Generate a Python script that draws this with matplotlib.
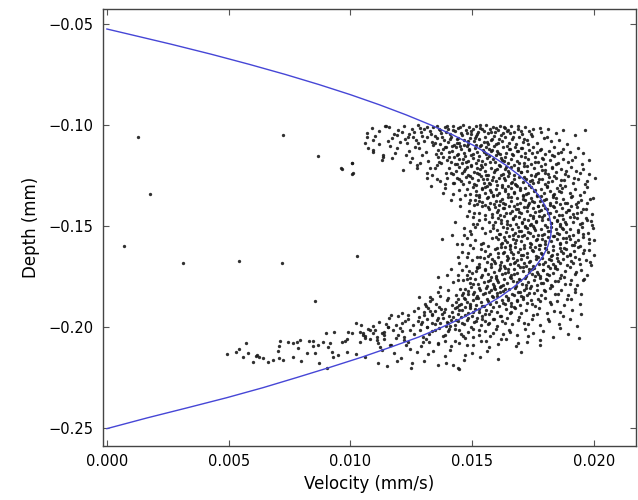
import numpy as np
import matplotlib
matplotlib.use("Agg")
import matplotlib.pyplot as plt

# ---- fitted profile curve (velocity mm/s, depth mm) ----
curve_depth = [-0.0525, -0.055, -0.060, -0.065, -0.070, -0.075, -0.080, -0.085, -0.090, -0.095,
               -0.100, -0.105, -0.110, -0.115, -0.120, -0.125, -0.130, -0.135, -0.140, -0.145,
               -0.150, -0.155, -0.160, -0.165, -0.170, -0.175, -0.180, -0.185, -0.190, -0.195,
               -0.200, -0.205, -0.210, -0.215, -0.220, -0.225, -0.230, -0.235, -0.240, -0.245, -0.2503]
curve_vel = [0.0, 0.00088, 0.00263, 0.00429, 0.00585, 0.00733, 0.00871, 0.01000, 0.01119, 0.01229,
             0.01330, 0.01422, 0.01504, 0.01576, 0.01640, 0.01694, 0.01739, 0.01774, 0.01800, 0.01817,
             0.01825, 0.01823, 0.01811, 0.01791, 0.01761, 0.01722, 0.01673, 0.01616, 0.01546, 0.01468,
             0.01378, 0.01280, 0.01165, 0.01045, 0.00915, 0.00780, 0.00642, 0.00492, 0.00330, 0.00165, 0.0]

# ---- measured points: (velocity in 1e-5 mm/s, depth in -1e-4 mm) ----
outliers = [(127,1059),(177,1342),(70,1600),(312,1683),(542,1673),(719,1683),(723,1050),(867,1153),
            (855,1871),(1027,1648),(960,1213),(1007,1243),(1006,1188),(1376,1564)]

band_a = [(1087,1016),(1142,1005),(1067,1041),(1145,1003),(1197,1025),(1252,1020),(1286,1016),(1210,1033),
          (1190,1050),(1101,1053),(1313,1008),(1327,1030),(1341,1012),(1356,1003),(1368,1025),(1374,1040),
          (1389,1010),(1402,1022),(1411,1046),(1423,1004),(1430,1031),(1442,1015),(1455,1038),(1461,1002),
          (1473,1027),(1486,1011),(1494,1044),(1502,1019),(1515,1006),(1524,1035),(1533,1013),(1547,1028),
          (1556,1001),(1564,1042),(1572,1018),(1585,1009),(1593,1033),(1607,1024),(1615,1004),(1628,1039),
          (1636,1015),(1648,1027),(1661,1007),(1673,1036),(1690,1019),(1704,1045),(1718,1011),(1735,1030),
          (1752,1022),(1784,1034),(1812,1018),(1846,1042),(1873,1027),(1921,1048),(1964,1025)]
band_b = [(1060,1091),(1094,1074),(1067,1058),(1170,1066),(1224,1069),(1258,1058),(1293,1053),(1302,1079),
          (1232,1088),(1316,1062),(1335,1083),(1348,1056),(1357,1066),(1370,1094),(1384,1072),(1402,1083),
          (1415,1059),(1426,1097),(1438,1068),(1447,1087),(1459,1052),(1468,1075),(1481,1092),(1490,1063),
          (1506,1081),(1517,1055),(1529,1070),(1538,1098),(1552,1061),(1563,1085),(1577,1073),(1588,1054),
          (1596,1093),(1611,1067),(1623,1080),(1637,1058),(1652,1089),(1664,1071),(1679,1096),(1693,1062),
          (1708,1084),(1726,1075),(1747,1057),(1768,1090),(1795,1066),(1823,1081),(1858,1072),(1889,1095)]
band_c = [(1094,1124),(1119,1096),(1163,1102),(1183,1140),(1134,1149),(1093,1132),(1265,1107),(1283,1115),
          (1311,1132),(1341,1099),(1361,1124),(1373,1141),(1388,1110),(1406,1132),(1418,1104),(1434,1107),
          (1442,1145),(1455,1118),(1467,1137),(1478,1103),(1489,1126),(1497,1148),(1511,1113),(1522,1135),
          (1534,1106),(1545,1122),(1557,1144),(1568,1117),(1579,1131),(1591,1102),(1603,1128),(1614,1146),
          (1626,1111),(1638,1137),(1650,1120),(1663,1142),(1675,1107),(1688,1129),(1701,1115),(1716,1140),
          (1732,1124),(1749,1109),(1765,1135),(1781,1118),(1798,1146),(1815,1127),(1836,1108),(1852,1141),
          (1874,1119),(1903,1133),(1936,1112)]
band_d = [(1128,1173),(1005,1187),(1170,1165),(1245,1182),(1272,1198),(1135,1157),(1361,1157),(1371,1190),
          (1381,1157),(1396,1172),(1412,1182),(1425,1160),(1437,1195),(1448,1168),(1459,1186),(1471,1153),
          (1483,1177),(1494,1199),(1505,1164),(1516,1189),(1528,1155),(1539,1176),(1551,1193),(1562,1162),
          (1574,1184),(1586,1170),(1597,1151),(1609,1196),(1621,1175),(1634,1158),(1646,1188),(1659,1166),
          (1672,1197),(1686,1179),(1699,1154),(1713,1187),(1728,1169),(1742,1192),(1757,1158),(1771,1181),
          (1786,1163),(1801,1195),(1818,1174),(1835,1156),(1853,1188),(1872,1167),(1894,1183),(1921,1161),
          (1952,1194),(1978,1172)]
band_e = [(964,1218),(1012,1239),(1217,1223),(1272,1214),(1313,1236),(1334,1248),(1393,1239),(1327,1214),
          (1404,1213),(1420,1244),(1432,1226),(1447,1206),(1459,1237),(1471,1219),(1482,1248),(1494,1202),
          (1506,1231),(1518,1215),(1529,1242),(1541,1208),(1553,1226),(1565,1247),(1577,1211),(1589,1234),
          (1601,1220),(1613,1203),(1625,1243),(1637,1217),(1649,1230),(1661,1209),(1674,1246),(1687,1222),
          (1700,1235),(1713,1204),(1727,1228),(1741,1249),(1755,1213),(1769,1236),(1783,1205),(1798,1224),
          (1813,1245),(1829,1210),(1846,1233),(1864,1218),(1883,1241),(1905,1207),(1928,1229),(1956,1216),
          (1982,1244)]
band_f = [(1313,1264),(1395,1264),(1420,1289),(1369,1277),(1448,1268),(1462,1291),(1476,1256),(1489,1280),
          (1501,1263),(1514,1297),(1526,1272),(1538,1251),(1550,1285),(1562,1266),(1574,1293),(1586,1258),
          (1598,1278),(1610,1262),(1622,1299),(1634,1274),(1646,1253),(1658,1287),(1670,1268),(1682,1295),
          (1694,1257),(1707,1281),(1720,1265),(1733,1298),(1746,1271),(1759,1252),(1772,1284),(1786,1267),
          (1800,1294),(1814,1259),(1829,1279),(1844,1262),(1860,1296),(1877,1273),(1895,1255),(1914,1288),
          (1935,1269),(1962,1291),(2005,1262)]
band_g = [(1389,1313),(1380,1335),(1423,1342),(1446,1321),(1478,1318),(1491,1341),(1503,1306),(1516,1329),
          (1528,1347),(1540,1312),(1551,1336),(1563,1303),(1575,1324),(1587,1349),(1599,1315),(1611,1338),
          (1623,1307),(1635,1327),(1647,1344),(1659,1310),(1671,1333),(1683,1301),(1695,1322),(1707,1346),
          (1719,1314),(1731,1339),(1743,1305),(1755,1326),(1768,1348),(1781,1317),(1794,1335),(1807,1302),
          (1821,1325),(1835,1343),(1850,1311),(1866,1330),(1883,1304),(1901,1338),(1921,1319),(1945,1347),
          (1973,1309)]
band_h = [(1512,1371),(1519,1392),(1450,1365),(1487,1384),(1527,1358),(1539,1381),(1551,1397),(1563,1362),
          (1575,1386),(1587,1353),(1599,1374),(1611,1395),(1623,1366),(1635,1389),(1647,1356),(1659,1378),
          (1671,1399),(1683,1363),(1695,1385),(1707,1352),(1719,1372),(1731,1394),(1743,1360),(1755,1383),
          (1767,1351),(1779,1376),(1792,1398),(1805,1364),(1818,1387),(1831,1355),(1845,1379),(1859,1392),
          (1874,1368),(1890,1384),(1907,1357),(1925,1391),(1946,1370),(1972,1388),(1998,1361)]
band_i = [(1567,1408),(1530,1437),(1488,1425),(1553,1446),(1568,1418),(1580,1441),(1592,1405),(1604,1429),
          (1616,1447),(1628,1412),(1640,1435),(1652,1402),(1664,1424),(1676,1449),(1688,1415),(1700,1438),
          (1712,1406),(1724,1427),(1736,1444),(1748,1411),(1760,1433),(1772,1401),(1784,1421),(1796,1446),
          (1808,1414),(1820,1437),(1832,1403),(1845,1426),(1858,1448),(1871,1410),(1885,1432),(1899,1419),
          (1914,1442),(1930,1407),(1948,1430),(1969,1416),(1992,1439)]
band_j = [(1587,1495),(1553,1466),(1520,1488),(1569,1480),(1505,1458),(1608,1462),(1620,1487),(1632,1453),
          (1644,1476),(1656,1497),(1668,1465),(1680,1489),(1692,1456),(1704,1478),(1716,1499),(1728,1468),
          (1740,1491),(1752,1459),(1764,1481),(1776,1452),(1788,1472),(1800,1494),(1812,1463),(1824,1485),
          (1836,1457),(1848,1477),(1860,1498),(1873,1466),(1887,1490),(1901,1455),(1916,1479),(1932,1461),
          (1950,1486),(1970,1470),(1994,1493)]
band_k = [(1437,1589),(1491,1524),(1512,1506),(1553,1536),(1540,1512),(1466,1545),(1604,1518),(1616,1541),
          (1628,1507),(1640,1530),(1652,1548),(1664,1513),(1676,1536),(1688,1503),(1700,1525),(1712,1544),
          (1724,1510),(1736,1533),(1748,1502),(1760,1522),(1772,1546),(1784,1515),(1796,1538),(1808,1505),
          (1820,1527),(1832,1549),(1845,1517),(1858,1540),(1871,1508),(1885,1531),(1900,1514),(1916,1543),
          (1933,1521),(1952,1504),(1974,1535),(1998,1512)]
band_l = [(1491,1594),(1510,1571),(1545,1583),(1478,1560),(1565,1598),(1580,1557),(1606,1566),(1618,1589),
          (1630,1555),(1642,1578),(1654,1598),(1666,1562),(1678,1585),(1690,1552),(1702,1574),(1714,1595),
          (1726,1559),(1738,1582),(1750,1551),(1762,1571),(1774,1593),(1786,1564),(1798,1587),(1810,1554),
          (1822,1576),(1834,1597),(1847,1566),(1860,1589),(1873,1557),(1887,1580),(1902,1563),(1918,1592),
          (1936,1570),(1956,1553),(1978,1584),(2001,1567)]
band_m = [(1443,1652),(1478,1652),(1519,1652),(1460,1628),(1535,1615),(1572,1641),(1594,1612),(1606,1635),
          (1618,1604),(1630,1627),(1642,1648),(1654,1616),(1666,1639),(1678,1606),(1690,1628),(1702,1645),
          (1714,1611),(1726,1634),(1738,1603),(1750,1624),(1762,1647),(1774,1614),(1786,1637),(1798,1607),
          (1810,1629),(1822,1649),(1834,1618),(1847,1640),(1860,1609),(1873,1632),(1887,1615),(1902,1644),
          (1918,1622),(1936,1605),(1956,1636),(1980,1619),(1999,1642)]
band_n = [(1498,1668),(1530,1690),(1561,1676),(1475,1697),(1549,1659),(1582,1662),(1594,1685),(1606,1654),
          (1618,1677),(1630,1698),(1642,1666),(1654,1689),(1666,1656),(1678,1678),(1690,1695),(1702,1661),
          (1714,1684),(1726,1653),(1738,1674),(1750,1697),(1762,1664),(1774,1687),(1786,1657),(1798,1679),
          (1810,1699),(1822,1668),(1834,1690),(1847,1659),(1860,1682),(1874,1665),(1889,1694),(1905,1672),
          (1923,1655),(1944,1686),(1968,1669),(1990,1692)]
band_o = [(1361,1751),(1443,1743),(1457,1718),(1500,1732),(1520,1708),(1479,1745),(1552,1713),(1564,1736),
          (1576,1704),(1588,1727),(1600,1748),(1612,1716),(1624,1739),(1636,1706),(1648,1728),(1660,1745),
          (1672,1711),(1684,1734),(1696,1703),(1708,1724),(1720,1747),(1732,1714),(1744,1737),(1756,1707),
          (1768,1729),(1780,1749),(1793,1718),(1806,1740),(1819,1709),(1833,1732),(1848,1715),(1864,1744),
          (1881,1722),(1900,1705),(1922,1736),(1947,1719),(1970,1741)]
band_p = [(1368,1800),(1441,1767),(1491,1784),(1420,1779),(1480,1760),(1512,1762),(1524,1785),(1536,1754),
          (1548,1777),(1560,1798),(1572,1766),(1584,1789),(1596,1756),(1608,1778),(1620,1795),(1632,1761),
          (1644,1784),(1656,1753),(1668,1774),(1680,1797),(1692,1764),(1704,1787),(1716,1757),(1728,1779),
          (1740,1799),(1753,1768),(1766,1790),(1779,1759),(1793,1782),(1808,1765),(1824,1794),(1841,1772),
          (1860,1755),(1882,1786),(1906,1769),(1932,1791),(1958,1763)]
band_q = [(1464,1833),(1327,1850),(1361,1827),(1402,1815),(1435,1842),(1450,1810),(1472,1812),(1484,1835),
          (1496,1804),(1508,1827),(1520,1848),(1532,1816),(1544,1839),(1556,1806),(1568,1828),(1580,1845),
          (1592,1811),(1604,1834),(1616,1803),(1628,1824),(1640,1847),(1652,1814),(1664,1837),(1676,1807),
          (1688,1829),(1700,1849),(1713,1818),(1726,1840),(1739,1809),(1753,1832),(1768,1815),(1784,1844),
          (1801,1822),(1820,1805),(1842,1836),(1866,1819),(1892,1841),(1922,1813),(1948,1838)]
band_r = [(1282,1853),(1327,1871),(1395,1866),(1400,1858),(1437,1899),(1416,1889),(1350,1888),(1310,1895),
          (1442,1862),(1454,1885),(1466,1854),(1478,1877),(1490,1898),(1502,1866),(1514,1889),(1526,1856),
          (1538,1878),(1550,1895),(1562,1861),(1574,1884),(1586,1853),(1598,1874),(1610,1897),(1622,1864),
          (1634,1887),(1646,1857),(1658,1879),(1670,1899),(1683,1868),(1696,1890),(1710,1859),(1725,1882),
          (1741,1865),(1758,1894),(1777,1872),(1798,1855),(1822,1886),(1848,1869),(1876,1891),(1908,1863),
          (1942,1884)]
band_s = [(1160,1957),(1283,1949),(1238,1942),(1279,1905),(1165,1939),(1210,1931),(1302,1928),(1318,1907),
          (1334,1941),(1349,1919),(1363,1902),(1376,1935),(1390,1912),(1404,1946),(1417,1925),(1430,1904),
          (1444,1938),(1458,1916),(1471,1901),(1485,1931),(1499,1944),(1513,1909),(1527,1927),(1541,1948),
          (1556,1914),(1571,1936),(1587,1903),(1603,1924),(1620,1945),(1638,1911),(1657,1933),(1677,1906),
          (1699,1929),(1722,1918),(1748,1940),(1776,1908),(1806,1931),(1838,1921),(1872,1947),(1912,1915),
          (1948,1937)]
band_t = [(1023,1982),(1155,1998),(1187,1990),(1214,1979),(1238,1962),(1258,1990),(1293,1974),(1313,1998),
          (1334,1982),(1354,1965),(1116,1975),(1092,1995),(1045,1988),(1368,1978),(1381,1957),(1393,1995),
          (1402,1982),(1415,1963),(1428,1990),(1441,1971),(1454,1952),(1467,1986),(1480,1966),(1494,1998),
          (1508,1975),(1522,1955),(1537,1989),(1552,1968),(1568,1981),(1585,1959),(1603,1993),(1622,1972),
          (1642,1954),(1664,1987),(1688,1965),(1714,1979),(1744,1958),(1778,1991),(1815,1970),(1856,1985),
          (1900,1962),(1931,1996)]
band_u = [(900,2031),(933,2023),(991,2023),(1005,2028),(1040,2023),(1050,2031),(1060,2045),(1073,2011),
          (1092,2031),(1101,2015),(1108,2051),(1128,2031),(1138,2041),(1155,2001),(1176,2015),(1197,2040),
          (1204,2006),(1220,2048),(1245,2015),(1286,2015),(1297,2048),(1313,2001),(1348,2015),(1324,2036),
          (1365,2004),(1389,2040),(1402,2022),(1430,2011),(1447,2015),(1462,2043),(1484,2027),(1505,2009),
          (1528,2038),(1551,2019),(1575,2047),(1600,2012),(1626,2033),(1654,2024),(1685,2041),(1718,2008),
          (1752,2030),(1790,2018),(1834,2048),(1861,2005),(1894,2037),(1940,2056)]
band_v = [(544,2110),(571,2078),(708,2094),(711,2069),(745,2073),(766,2081),(779,2073),(793,2064),
          (786,2106),(831,2069),(848,2069),(845,2095),(868,2089),(889,2073),(909,2098),(916,2078),
          (964,2073),(978,2068),(987,2061),(1040,2073),(1060,2056),(1081,2061),(1115,2081),(1122,2098),
          (1138,2061),(1165,2089),(1220,2064),(1228,2089),(1297,2072),(1324,2073),(1360,2085),(1389,2067),
          (1415,2092),(1447,2079),(1471,2056),(1502,2088),(1537,2070),(1568,2097),(1605,2083),(1640,2060),
          (1680,2094),(1725,2076),(1780,2090)]
band_w = [(492,2134),(580,2127),(560,2150),(612,2144),(626,2150),(640,2155),(855,2127),(923,2122),
          (1023,2134),(985,2122),(1245,2110),(1275,2122),(1128,2115),(1409,2114),(1498,2130),(1701,2125),
          (1470,2140),(1560,2118),(1390,2145),(1320,2133),(1180,2128),(950,2141)]
band_x = [(599,2172),(663,2172),(683,2163),(708,2155),(722,2163),(796,2168),(872,2177),(927,2150),
          (1112,2177),(1149,2193),(1251,2180),(1247,2205),(1361,2188),(1422,2188),(1443,2205),(1446,2208),
          (1605,2160),(903,2205),(1192,2168)]

fill_1 = [(1331,1047),(1362,1019),(1349,1088),(1378,1061),(1397,1003),(1409,1071),(1393,1037),(1436,1090),
          (1421,1024),(1452,1008),(1444,1063),(1478,1041),(1466,1099),(1497,1029),(1485,1078),(1512,1064),
          (1531,1002),(1520,1046),(1549,1083),(1541,1021),(1576,1037),(1566,1095),(1598,1014),(1583,1069),
          (1619,1048),(1605,1087),(1644,1031),(1631,1009),(1669,1058),(1656,1041),(1687,1006),(1712,1070),
          (1699,1032),(1741,1044),(1728,1093),(1779,1013),(1809,1058),(1292,1036),(1268,1072),(1241,1045)]
fill_2 = [(1352,1143),(1379,1118),(1365,1181),(1404,1157),(1391,1109),(1428,1192),(1417,1129),(1451,1104),
          (1463,1166),(1439,1148),(1487,1119),(1475,1183),(1503,1142),(1526,1171),(1515,1101),(1548,1134),
          (1537,1196),(1571,1153),(1559,1108),(1593,1185),(1582,1124),(1617,1162),(1606,1139),(1642,1103),
          (1629,1179),(1667,1148),(1655,1121),(1691,1188),(1683,1131),(1719,1159),(1706,1112),(1744,1138),
          (1758,1183),(1777,1126),(1793,1167),(1826,1149),(1843,1193),(1867,1135),(1911,1171),(1956,1141)]
fill_3 = [(1413,1238),(1438,1262),(1426,1289),(1465,1227),(1453,1276),(1491,1254),(1479,1209),(1508,1293),
          (1521,1236),(1546,1268),(1533,1218),(1569,1286),(1557,1247),(1592,1223),(1581,1271),(1617,1249),
          (1603,1298),(1641,1206),(1629,1263),(1663,1281),(1652,1239),(1688,1214),(1677,1292),(1712,1257),
          (1699,1233),(1737,1276),(1724,1204),(1761,1244),(1749,1288),(1787,1221),(1774,1265),(1811,1283),
          (1799,1236),(1838,1255),(1826,1211),(1863,1274),(1887,1229),(1918,1262),(1943,1237),(1971,1279)]
fill_4 = [(1493,1369),(1517,1347),(1506,1394),(1541,1316),(1529,1378),(1566,1358),(1554,1307),(1588,1392),
          (1577,1331),(1613,1374),(1601,1346),(1637,1318),(1625,1387),(1661,1355),(1649,1302),(1685,1393),
          (1673,1338),(1709,1367),(1697,1311),(1733,1384),(1721,1343),(1757,1322),(1745,1376),(1781,1354),
          (1769,1399),(1806,1308),(1794,1371),(1832,1347),(1819,1395),(1857,1327),(1845,1363),(1883,1386),
          (1871,1313),(1909,1352),(1935,1379),(1961,1333),(1986,1366)]
fill_5 = [(1583,1456),(1607,1423),(1595,1481),(1631,1409),(1619,1468),(1655,1437),(1643,1492),(1679,1418),
          (1667,1459),(1703,1484),(1691,1431),(1727,1404),(1715,1463),(1751,1449),(1739,1496),(1775,1427),
          (1763,1474),(1799,1412),(1787,1458),(1823,1487),(1811,1434),(1847,1469),(1835,1407),(1871,1445),
          (1859,1491),(1895,1421),(1883,1478),(1919,1456),(1907,1403),(1943,1488),(1931,1437),(1967,1462),
          (1955,1414),(1989,1477)]
fill_6 = [(1573,1527),(1597,1553),(1585,1508),(1621,1586),(1609,1539),(1645,1512),(1633,1571),(1669,1547),
          (1657,1593),(1693,1523),(1681,1568),(1717,1504),(1705,1552),(1741,1589),(1729,1531),(1765,1564),
          (1753,1509),(1789,1543),(1777,1596),(1813,1526),(1801,1572),(1837,1551),(1825,1505),(1861,1583),
          (1849,1536),(1885,1561),(1873,1517),(1909,1594),(1897,1548),(1933,1529),(1921,1578),(1957,1541),
          (1945,1599),(1981,1563)]
fill_7 = [(1553,1624),(1577,1687),(1565,1649),(1601,1611),(1589,1673),(1625,1636),(1613,1694),(1649,1658),
          (1637,1604),(1673,1681),(1661,1627),(1697,1613),(1685,1666),(1721,1699),(1709,1642),(1745,1618),
          (1733,1677),(1769,1653),(1757,1606),(1793,1689),(1781,1634),(1817,1661),(1805,1616),(1841,1697),
          (1829,1645),(1865,1622),(1853,1674),(1889,1651),(1877,1608),(1913,1683),(1901,1637),(1937,1664),
          (1961,1619),(1985,1676)]
fill_8 = [(1493,1759),(1517,1724),(1505,1788),(1541,1741),(1529,1703),(1565,1772),(1553,1718),(1589,1795),
          (1577,1752),(1613,1709),(1601,1766),(1637,1733),(1625,1791),(1661,1756),(1649,1713),(1685,1779),
          (1673,1738),(1709,1702),(1697,1769),(1733,1726),(1721,1794),(1757,1748),(1745,1711),(1781,1783),
          (1769,1736),(1805,1762),(1793,1719),(1829,1797),(1817,1742),(1853,1774),(1841,1706),(1877,1753),
          (1902,1789),(1928,1729),(1955,1768)]
fill_9 = [(1433,1876),(1457,1843),(1445,1892),(1481,1821),(1469,1861),(1505,1838),(1493,1884),(1529,1809),
          (1517,1857),(1553,1832),(1541,1896),(1577,1818),(1565,1871),(1601,1847),(1589,1805),(1625,1883),
          (1613,1826),(1649,1864),(1637,1813),(1673,1842),(1661,1897),(1697,1826),(1685,1871),(1721,1807),
          (1709,1853),(1745,1887),(1733,1834),(1769,1861),(1795,1817),(1821,1874),(1853,1839),(1889,1862),
          (1921,1828)]
fill_10 = [(1277,1968),(1301,1943),(1289,1987),(1325,1921),(1313,1962),(1349,1986),(1337,1934),(1373,1911),
           (1361,1957),(1397,1976),(1385,1928),(1421,1949),(1409,1993),(1445,1917),(1433,1964),(1469,1939),
           (1457,1982),(1493,1906),(1481,1953),(1517,1972),(1505,1926),(1541,1958),(1529,1911),(1565,1984),
           (1553,1936),(1589,1962),(1577,1919),(1613,1944),(1637,1979),(1661,1927),(1693,1952),(1729,1986),
           (1767,1938),(1811,1961),(1862,1926)]
fill_11 = [(1053,2038),(1081,2017),(1109,2066),(1137,2025),(1163,2089),(1189,2052),(1211,2019),(1237,2074),
           (1263,2037),(1289,2093),(1311,2058),(1337,2021),(1359,2079),(1381,2046),(1407,2012),(1429,2068),
           (1453,2035),(1477,2087),(1503,2048),(1529,2016),(1557,2071),(1585,2032),(1617,2058),(1651,2013),
           (1689,2077),(1731,2044),(1779,2062)]
fill_12 = [(532,2123),(618,2139),(701,2118),(763,2147),(820,2131),(1062,2148),(1209,2155),(1302,2169),
           (1338,2117),(1391,2176),(1465,2161),(1531,2148)]
fill_inner = [(1452,1403),(1478,1452),(1431,1478),(1509,1436),(1466,1511),(1495,1538),(1418,1546),
              (1527,1469),(1459,1587),(1503,1611),(1482,1634),(1538,1591),(1447,1683),(1521,1702),
              (1489,1724),(1412,1712),(1462,1766),(1398,1743),(1532,1655),(1505,1489),(1541,1399),
              (1469,1346),(1413,1371),(1390,1292),(1357,1268),(1331,1301),(1357,1197)]
fill_upleft = [(1158,1011),(1181,1043),(1219,1007),(1236,1061),(1262,1034),(1204,1083),(1153,1078),
               (1277,1091),(1191,1112),(1241,1127),(1296,1148),(1255,1162),(1318,1176),(1287,1189),
               (1346,1211),(1229,1149),(1303,1021),(1279,1002),(1117,1029),(1073,1112)]
fill_lowleft = [(1196,1948),(1225,1971),(1262,1923),(1148,1985),(1305,1884),(1337,1862),(1366,1846)]

all_pts = (outliers + band_a + band_b + band_c + band_d + band_e + band_f + band_g + band_h + band_i
           + band_j + band_k + band_l + band_m + band_n + band_o + band_p + band_q + band_r + band_s
           + band_t + band_u + band_v + band_w + band_x
           + fill_1 + fill_2 + fill_3 + fill_4 + fill_5 + fill_6 + fill_7 + fill_8 + fill_9
           + fill_10 + fill_11 + fill_12 + fill_inner + fill_upleft + fill_lowleft)
vel = np.array([p[0] for p in all_pts]) * 1e-5
depth = -np.array([p[1] for p in all_pts]) * 1e-4

xticks = [0.000, 0.005, 0.010, 0.015, 0.020]
yticks = [-0.25, -0.20, -0.15, -0.10, -0.05]

fig = plt.figure(figsize=(6.38, 5.0), dpi=100)
ax = fig.add_axes([103/638, 1 - 446/500, (636 - 103)/638, (446 - 9)/500])

ax.plot(vel, depth, linestyle='none', marker='o', markersize=2.4,
        markerfacecolor='#1a1a1a', markeredgewidth=0, alpha=0.9)
ax.plot(curve_vel, curve_depth, color='#4646d6', linewidth=1.0)

ax.set_xlim(-0.00016, 0.02173)
ax.set_ylim(-0.2589, -0.0426)
ax.set_xticks(xticks)
ax.set_yticks(yticks)
ax.set_xticklabels([f"{t:.3f}" for t in xticks])
ax.set_yticklabels([f"{t:.2f}".replace('-', '\u2212') for t in yticks])
ax.tick_params(direction='in', top=True, right=True, length=4, width=0.8,
               labelsize=10.5, color='#555555')
ax.tick_params(axis='y', pad=7)
ax.tick_params(axis='x', pad=6)
for s in ax.spines.values():
    s.set_color('#444444')
    s.set_linewidth(1.0)

ax.set_xlabel('Velocity (mm/s)', fontsize=12, labelpad=4)
ax.set_ylabel('Depth (mm)', fontsize=12, labelpad=6)

fig.savefig('out.png', dpi=100)
